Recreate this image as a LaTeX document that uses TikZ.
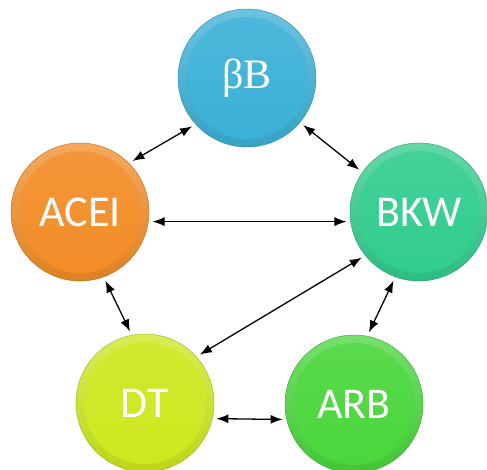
\documentclass[tikz,border=0pt]{standalone}
\usepackage{fontspec}
\setmainfont{Carlito}
\newfontfamily\greekserif{Liberation Serif}
\usetikzlibrary{arrows.meta}
\definecolor{color1}{RGB}{58,176,214}
\definecolor{color2}{RGB}{242,140,38}
\definecolor{color3}{RGB}{48,204,142}
\definecolor{color4}{RGB}{204,232,28}
\definecolor{color5}{RGB}{72,214,58}

\tikzset{
  disc/.style={circle, minimum size=138pt, inner sep=0pt, text=white,
               draw=#1!75!black, line width=0.4pt,
               top color=#1!75!white, bottom color=#1!92!black,
               font=\fontsize{44}{52}\selectfont,
               path picture={\shade[top color=#1!90!white, bottom color=#1]
                 (path picture bounding box.center) circle (61pt);}},
  link/.style={{Latex[length=12pt,width=9pt]}-{Latex[length=12pt,width=9pt]},
               line width=1.3pt, black,
               shorten >=4pt, shorten <=4pt}
}

\begin{document}
\begin{tikzpicture}[x=1pt,y=-1pt]
% marges de la figure
\useasboundingbox (0,0) rectangle (487,470);

% les cinq classes
\node[disc=color1] (bB)   at (247,78)  {\greekserif\fontsize{42}{50}\selectfont βB};
\node[disc=color2] (ACEI) at (80,212)  {ACEI};
\node[disc=color3] (BKW)  at (419,212) {BKW};
\node[disc=color4] (DT)   at (145,403) {DT};
\node[disc=color5] (ARB)  at (354,404) {ARB};

% liaisons
\draw[link] (ACEI.45)  -- (bB.222);
\draw[link] (bB.320)   -- (BKW.145);
\draw[link] (ACEI.352) -- (BKW.188);
\draw[link] (DT.42)    -- (BKW.219);
\draw[link] (ACEI.290) -- (DT.101);
\draw[link] (BKW.250)  -- (ARB.79);
\draw[link] (DT.347)   -- (ARB.193);

\end{tikzpicture}
\end{document}
